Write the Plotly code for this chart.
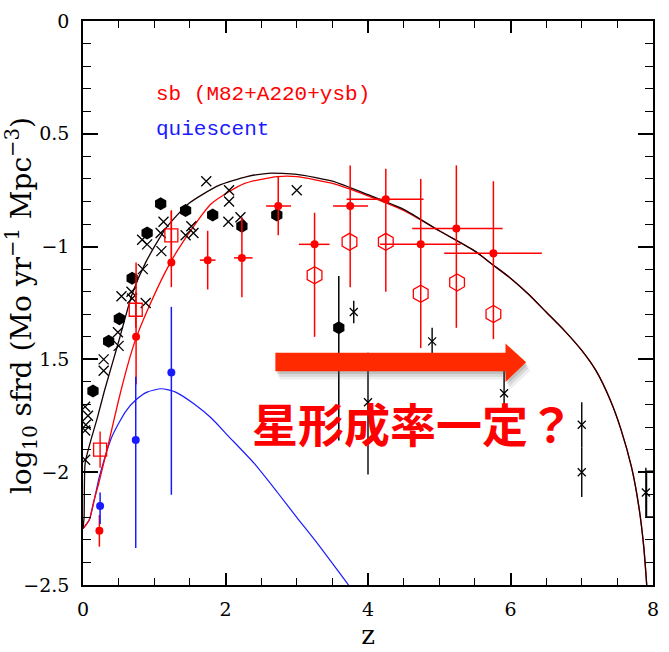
import plotly.graph_objects as go

# ---- model curves: log10 star-formation-rate density vs redshift ----
total_z = [0.0, 0.015, 0.03, 0.1, 0.2, 0.3, 0.41, 0.51, 0.69, 0.88, 1.16, 1.48, 1.9, 2.3, 2.6,
           3.0, 3.5, 4.0, 4.5, 5.0, 5.5, 5.75, 6.0, 6.25, 6.5, 6.75, 7.0, 7.2, 7.4, 7.55, 7.7,
           7.8, 7.87, 7.93]
total_y = [-2.25, -2.2, -1.96, -1.87, -1.76, -1.64, -1.52, -1.41, -1.21, -1.07, -0.92, -0.81, -0.73,
           -0.69, -0.675, -0.68, -0.71, -0.77, -0.835, -0.93, -1.02, -1.08, -1.14, -1.21, -1.29,
           -1.37, -1.46, -1.55, -1.68, -1.81, -1.98, -2.15, -2.33, -2.58]

sb_z = [0.0, 0.05, 0.09, 0.15, 0.22, 0.36, 0.5, 0.65, 0.74, 0.88, 1.16, 1.34, 1.8, 2.27, 2.73,
        3.0, 3.5, 4.0, 4.5, 5.0, 5.5, 5.75, 6.0, 6.25, 6.5, 6.75, 7.0, 7.2, 7.4, 7.55, 7.7,
        7.8, 7.87, 7.93]
sb_y = [-2.25, -2.23, -2.21, -2.13, -2.05, -1.87, -1.68, -1.5, -1.41, -1.3, -1.11, -1.01, -0.81,
        -0.72, -0.69, -0.69, -0.72, -0.775, -0.84, -0.93, -1.02, -1.08, -1.14, -1.21, -1.29,
        -1.37, -1.46, -1.55, -1.68, -1.81, -1.98, -2.15, -2.33, -2.58]

q_z = [0.0, 0.09, 0.23, 0.41, 0.6, 0.74, 0.9, 1.1, 1.3, 1.57, 1.8, 2.04, 2.4, 2.73, 3.0, 3.3, 3.75]
q_y = [-2.25, -2.21, -2.02, -1.84, -1.73, -1.68, -1.645, -1.63, -1.645, -1.7, -1.76, -1.84,
       -1.96, -2.09, -2.2, -2.32, -2.51]

# ---- observations ----
hex_z = [0.14, 0.36, 0.51, 0.69, 0.90, 1.09, 1.44, 1.82, 2.23, 2.72]
hex_y = [-1.64, -1.42, -1.32, -1.14, -0.94, -0.81, -0.84, -0.86, -0.91, -0.86]

hexerr_z = [3.59]
hexerr_y = [-1.36]
hexerr_lo = [-1.86]
hexerr_hi = [-1.13]

cross_z = [0.03, 0.07, 0.04, 0.03, 0.03, 0.29, 0.29, 0.49, 0.50, 0.54, 0.68, 0.69, 0.88, 0.84,
           0.83, 0.90, 1.09, 1.10, 1.13, 1.44, 1.52, 1.55, 1.73, 2.05, 2.05, 2.04, 2.21, 3.00]
cross_y = [-1.71, -1.75, -1.79, -1.815, -1.945, -1.50, -1.55, -1.38, -1.44, -1.22, -1.20, -1.23,
           -1.25, -1.10, -0.97, -0.99, -0.94, -1.02, -0.89, -0.95, -0.91, -0.94, -0.71, -0.75,
           -0.80, -0.89, -0.87, -0.75]

crosserr_z = [3.80, 4.00, 4.90, 5.91, 7.00, 7.00, 7.90]
crosserr_y = [-1.29, -1.69, -1.42, -1.65, -1.79, -2.00, -2.09]
crosserr_lo = [-1.34, -2.01, -1.48, -1.72, -1.89, -2.11, -2.20]
crosserr_hi = [-1.24, -1.47, -1.36, -1.50, -1.69, -1.89, -1.98]

# error box of the highest-redshift point
box_z = [7.91, 8.2]
box_y = [-2.198, -1.995]

sbpt_z = [0.23, 0.745, 1.24, 1.75, 2.23, 2.74, 3.25, 3.75, 4.25, 4.74, 5.24, 5.76]
sbpt_y = [-2.26, -1.40, -1.07, -1.06, -1.05, -0.82, -0.99, -0.82, -0.79, -0.99, -0.92, -1.03]
sbpt_ylo = [-2.33, -1.61, -1.18, -1.19, -1.225, -0.95, -1.40, -1.18, -1.20, -1.45, -1.36, -1.41]
sbpt_yhi = [-2.19, -1.07, -0.84, -0.93, -0.87, -0.69, -0.85, -0.64, -0.655, -0.70, -0.64, -0.71]
sbpt_zlo = [0.23, 0.745, 1.24, 1.64, 2.12, 2.57, 3.03, 3.51, 3.70, 4.17, 4.62, 5.07]
sbpt_zhi = [0.23, 0.745, 1.24, 1.86, 2.38, 2.92, 3.46, 4.00, 4.78, 5.30, 5.89, 6.44]

sbhex_z = [3.25, 3.74, 4.25, 4.74, 5.25, 5.76]
sbhex_y = [-1.127, -0.979, -0.979, -1.209, -1.159, -1.299]

sbsq_z = [0.24, 0.74, 1.24]
sbsq_y = [-1.90, -1.28, -0.95]
sbsq_lo = [-1.98, -1.36, -1.05]
sbsq_hi = [-1.82, -1.20, -0.84]

qpt_z = [0.24, 0.74, 1.24]
qpt_y = [-2.15, -1.857, -1.558]
qpt_lo = [-2.23, -2.336, -2.10]
qpt_hi = [-2.09, -1.577, -1.267]

ytick_vals = [-2.5, -2, -1.5, -1, -0.5, 0]
ytick_text = ["\u22122.5", "\u22122", "1.5", "\u22121", "0.5", "0"]
xtick_vals = [0, 2, 4, 6, 8]
xtick_text = ["0", "2", "4", "6", "8"]

RED = "#ff0000"
BLUE = "#1a1aff"
SERIF = "DejaVu Serif"


def yerr(y, lo, hi):
    return dict(type="data", symmetric=False,
                array=[h - v for v, h in zip(y, hi)],
                arrayminus=[v - l for v, l in zip(y, lo)])


fig = go.Figure()

# curves
fig.add_trace(go.Scatter(x=q_z, y=q_y, mode="lines", line=dict(color=BLUE, width=1.2, shape="spline", smoothing=0.6)))
fig.add_trace(go.Scatter(x=sb_z, y=sb_y, mode="lines", line=dict(color=RED, width=1.3, shape="spline", smoothing=0.6)))
fig.add_trace(go.Scatter(x=total_z, y=total_y, mode="lines", line=dict(color="#1a0000", width=1.3, shape="spline", smoothing=0.6)))

# black data
fig.add_trace(go.Scatter(x=hex_z, y=hex_y, mode="markers",
                         marker=dict(symbol="hexagon", size=13, color="black")))
fig.add_trace(go.Scatter(x=hexerr_z, y=hexerr_y, mode="markers",
                         marker=dict(symbol="hexagon", size=13, color="black"),
                         error_y=dict(yerr(hexerr_y, hexerr_lo, hexerr_hi), color="black", thickness=1.5, width=0)))
fig.add_trace(go.Scatter(x=cross_z, y=cross_y, mode="markers",
                         marker=dict(symbol="x-thin-open", size=10, color="black",
                                     line=dict(color="black", width=1.3))))
fig.add_trace(go.Scatter(x=crosserr_z, y=crosserr_y, mode="markers",
                         marker=dict(symbol="x-thin-open", size=8, color="black",
                                     line=dict(color="black", width=1.3)),
                         error_y=dict(yerr(crosserr_y, crosserr_lo, crosserr_hi), color="black", thickness=1.4, width=0)))
fig.add_trace(go.Scatter(x=[box_z[0], box_z[0], box_z[1], box_z[1], box_z[0]],
                         y=[box_y[0], box_y[1], box_y[1], box_y[0], box_y[0]],
                         mode="lines", line=dict(color="black", width=1.3)))

# starburst data
fig.add_trace(go.Scatter(x=sbpt_z, y=sbpt_y, mode="markers",
                         marker=dict(symbol="circle", size=8, color=RED),
                         error_y=dict(yerr(sbpt_y, sbpt_ylo, sbpt_yhi), color=RED, thickness=1.5, width=0),
                         error_x=dict(yerr(sbpt_z, sbpt_zlo, sbpt_zhi), color=RED, thickness=1.5, width=0)))
fig.add_trace(go.Scatter(x=sbhex_z, y=sbhex_y, mode="markers",
                         marker=dict(symbol="hexagon-open", size=17, color=RED,
                                     line=dict(color=RED, width=1.3))))
fig.add_trace(go.Scatter(x=sbsq_z, y=sbsq_y, mode="markers",
                         marker=dict(symbol="square-open", size=13, color=RED,
                                     line=dict(color=RED, width=1.3)),
                         error_y=dict(yerr(sbsq_y, sbsq_lo, sbsq_hi), color=RED, thickness=1.4, width=0)))

# quiescent data
fig.add_trace(go.Scatter(x=qpt_z, y=qpt_y, mode="markers",
                         marker=dict(symbol="circle", size=8, color=BLUE),
                         error_y=dict(yerr(qpt_y, qpt_lo, qpt_hi), color=BLUE, thickness=1.5, width=0)))

# arrow (drop shadow first, then the arrow itself)
def arrow_path(dx=0.0, dy=0.0):
    pts = [(2.70, -1.471), (5.93, -1.471), (5.93, -1.43), (6.22, -1.513),
           (5.93, -1.60), (5.93, -1.553), (2.70, -1.553)]
    return "M " + " L ".join(f"{x + dx},{y + dy}" for x, y in pts) + " Z"

shapes = []
for k, op in [(3, 0.10), (2, 0.14), (1, 0.18)]:
    shapes.append(dict(type="path", xref="x", yref="y", path=arrow_path(0.02 * k, -0.012 * k),
                       fillcolor="#555555", opacity=op, line=dict(width=0), layer="above"))
shapes.append(dict(type="path", xref="x", yref="y", path=arrow_path(),
                   fillcolor="#ff2a00", line=dict(width=0), layer="above"))

annotations = [
    dict(text="sb (M82+A220+ysb)", x=(155 - 83) / 576, y=1 - (88 - 13) / 579, xref="paper", yref="paper",
         xanchor="left", yanchor="middle", showarrow=False,
         font=dict(family="Liberation Mono", size=21, color=RED)),
    dict(text="quiescent", x=(155 - 83) / 576, y=1 - (124 - 13) / 579, xref="paper", yref="paper",
         xanchor="left", yanchor="middle", showarrow=False,
         font=dict(family="Liberation Mono", size=21, color=BLUE)),
    dict(text="星形成率一定？", x=(252 - 83) / 576, y=1 - (425 - 13) / 579, xref="paper", yref="paper",
         xanchor="left", yanchor="middle", showarrow=False,
         font=dict(family="Noto Sans CJK JP", size=46, color=RED, weight="bold")),
    dict(text="log<sub>10</sub> sfrd (Mo yr<sup>\u22121</sup> Mpc<sup>\u22123</sup>)",
         x=-62 / 576, y=1 - (305 - 13) / 579, xref="paper", yref="paper",
         xanchor="center", yanchor="middle", textangle=-90, showarrow=False,
         font=dict(family=SERIF, size=28, color="black")),
]

axis_common = dict(showline=True, linecolor="black", linewidth=1.5, mirror="allticks",
                   ticks="inside", tickcolor="black", showgrid=False, zeroline=False,
                   tickfont=dict(family=SERIF, size=19, color="black"))

fig.update_layout(
    width=669, height=652,
    margin=dict(l=83, r=10, t=13, b=60),
    paper_bgcolor="white", plot_bgcolor="white",
    showlegend=False,
    font=dict(family=SERIF),
    shapes=shapes, annotations=annotations,
    xaxis=dict(axis_common, range=[0, 8], tickvals=xtick_vals, ticktext=xtick_text,
               ticklen=12, tickwidth=1.5, ticklabelstandoff=6,
               minor=dict(dtick=0.5, ticks="inside", ticklen=7, tickcolor="black", tickwidth=1.2),
               title=dict(text="z", font=dict(family=SERIF, size=26, color="black"), standoff=4)),
    yaxis=dict(axis_common, range=[-2.5, 0], tickvals=ytick_vals, ticktext=ytick_text,
               ticklen=15, tickwidth=1.5, ticklabelstandoff=8,
               minor=dict(dtick=0.1, ticks="inside", ticklen=8, tickcolor="black", tickwidth=1.2)),
)

fig.write_html("out.html")
